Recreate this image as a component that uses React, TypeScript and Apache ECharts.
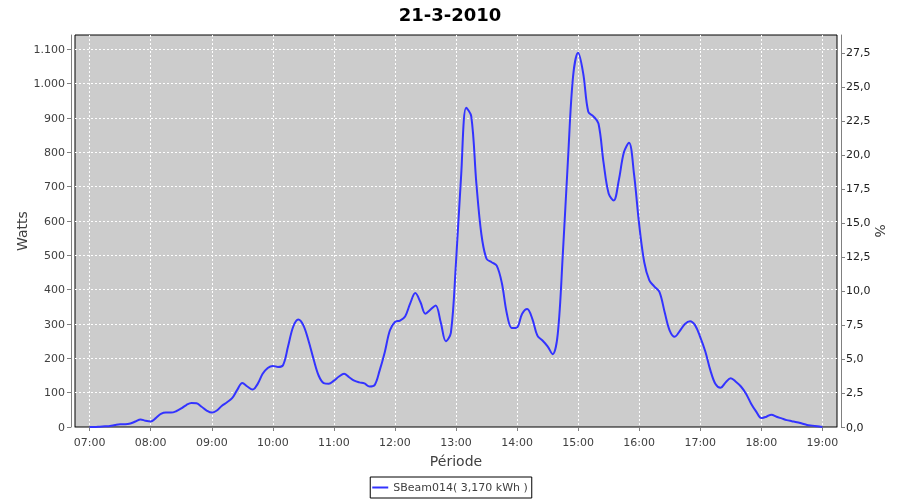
import React, { useEffect, useRef } from "react";
import * as echarts from "echarts";

const TITLE = "21-3-2010";
const SERIES_NAME = "SBeam014( 3,170 kWh )";
const START_MIN = 420; // 07:00
const STEP_MIN = 5;
// Watts, every 5 minutes from 07:00 to 19:00
const WATTS = [
  0, 0, 1, 2, 3, 6, 8, 8, 10, 16, 22, 18,
  16, 26, 38, 42, 42, 46, 54, 64, 70, 69, 59, 48,
  42, 48, 62, 72, 84, 108, 128, 118, 109, 125, 155, 172,
  178, 175, 180, 235, 292, 313, 296, 252, 198, 150, 128, 126,
  135, 147, 155, 145, 135, 130, 127, 118, 122, 165, 218, 281,
  306, 310, 322, 360, 390, 364, 330, 342, 354, 305, 250, 275,
  480, 730, 930, 905, 710, 560, 490, 480, 470, 420, 330, 288,
  290, 330, 344, 315, 266, 252, 235, 212, 271, 505, 777, 1020,
  1090, 1030, 918, 905, 884, 770, 680, 660, 719, 800, 828, 735,
  590, 480, 427, 409, 393, 335, 281, 263, 280, 300, 308, 296,
  262, 220, 165, 125, 114, 130, 142, 132, 118, 97, 68, 45,
  26, 30, 36, 30, 25, 20, 17, 14, 10, 6, 4, 2,
  0,
];
const X_TICKS = [420, 480, 540, 600, 660, 720, 780, 840, 900, 960, 1020, 1080, 1140];
const LEFT_TICKS = [0, 100, 200, 300, 400, 500, 600, 700, 800, 900, 1000, 1100];
const RIGHT_TICKS = [0, 2.5, 5, 7.5, 10, 12.5, 15, 17.5, 20, 22.5, 25, 27.5];

const FONT = "DejaVu Sans";

function fmtTime(m: number): string {
  const h = Math.floor(m / 60);
  const mm = Math.round(m - h * 60);
  return String(h).padStart(2, "0") + ":" + String(mm).padStart(2, "0");
}
function fmtWatts(v: number): string {
  if (v >= 1000) return Math.floor(v / 1000) + "." + String(v % 1000).padStart(3, "0");
  return String(v);
}
function fmtPct(v: number): string {
  return v.toFixed(1).replace(".", ",");
}

export default function App() {
  const ref = useRef<HTMLDivElement>(null);
  useEffect(() => {
    if (!ref.current) return;
    const chart = echarts.init(ref.current, null, { renderer: "svg" });
    const data = WATTS.map((w, i) => [START_MIN + i * STEP_MIN, w]);
    const axisLine = { show: true, lineStyle: { color: "#808080", width: 1 } };
    const axisTick = { show: true, length: 4, lineStyle: { color: "#808080" } };
    const gridLine = { show: true, lineStyle: { color: "#ffffff", type: [2, 2], width: 1 } };
    chart.setOption({
      animation: false,
      title: {
        text: TITLE,
        left: "center",
        top: 0,
        textStyle: { fontFamily: FONT, fontSize: 18, fontWeight: "bold", color: "#000" },
      },
      legend: {
        data: [SERIES_NAME],
        left: "center",
        top: 477,
        borderColor: "#000",
        borderWidth: 1,
        padding: [4, 4, 4, 2],
        icon: "rect",
        itemWidth: 16,
        itemHeight: 2,
        itemGap: 4,
        textStyle: { fontFamily: FONT, fontSize: 11, color: "#404040", lineHeight: 13 },
      },
      grid: {
        left: 75,
        right: 63,
        top: 35,
        bottom: 73,
        show: true,
        backgroundColor: "#cccccc",
        borderColor: "#000000",
        borderWidth: 1,
        containLabel: false,
      },
      xAxis: {
        type: "value",
        min: 405.6,
        max: 1154.4,
        offset: 4,
        name: "Période",
        nameLocation: "middle",
        nameGap: 23,
        nameTextStyle: { fontFamily: FONT, fontSize: 14, color: "#404040" },
        axisLine,
        axisTick: { ...axisTick, customValues: X_TICKS },
        axisLabel: {
          customValues: X_TICKS,
          formatter: (v: number) => fmtTime(v),
          fontFamily: FONT,
          fontSize: 11,
          color: "#404040",
          margin: 6,
        },
        splitLine: gridLine,
      },
      yAxis: [
        {
          type: "value",
          min: 0,
          max: 1141.8,
          offset: 4,
          position: "left",
          name: "Watts",
          nameLocation: "middle",
          nameGap: 42,
          nameMoveOverlap: false,
          nameTextStyle: { fontFamily: FONT, fontSize: 14, color: "#404040" },
          axisLine,
          axisTick: { ...axisTick, customValues: LEFT_TICKS },
          axisLabel: {
            customValues: LEFT_TICKS,
            formatter: (v: number) => fmtWatts(v),
            fontFamily: FONT,
            fontSize: 11,
            color: "#404040",
            margin: 6,
          },
          splitLine: gridLine,
        },
        {
          type: "value",
          min: 0,
          max: 28.82,
          offset: 4,
          position: "right",
          name: "%",
          nameLocation: "middle",
          nameGap: 32,
          nameMoveOverlap: false,
          nameRotate: -90,
          nameTextStyle: { fontFamily: FONT, fontSize: 14, color: "#404040" },
          axisLine,
          axisTick: { ...axisTick, customValues: RIGHT_TICKS },
          axisLabel: {
            customValues: RIGHT_TICKS,
            formatter: (v: number) => fmtPct(v),
            fontFamily: FONT,
            fontSize: 11,
            color: "#202020",
            margin: 5,
          },
          splitLine: { show: false },
        },
      ],
      series: [
        {
          name: SERIES_NAME,
          type: "line",
          data,
          yAxisIndex: 0,
          symbol: "none",
          smooth: 0.35,
          lineStyle: { color: "#3333ff", width: 2 },
          itemStyle: { color: "#3333ff" },
        },
      ],
    });
    return () => chart.dispose();
  }, []);
  return (
    <div
      ref={ref}
      style={{ position: "fixed", left: 0, top: 0, width: 900, height: 500 }}
    />
  );
}
